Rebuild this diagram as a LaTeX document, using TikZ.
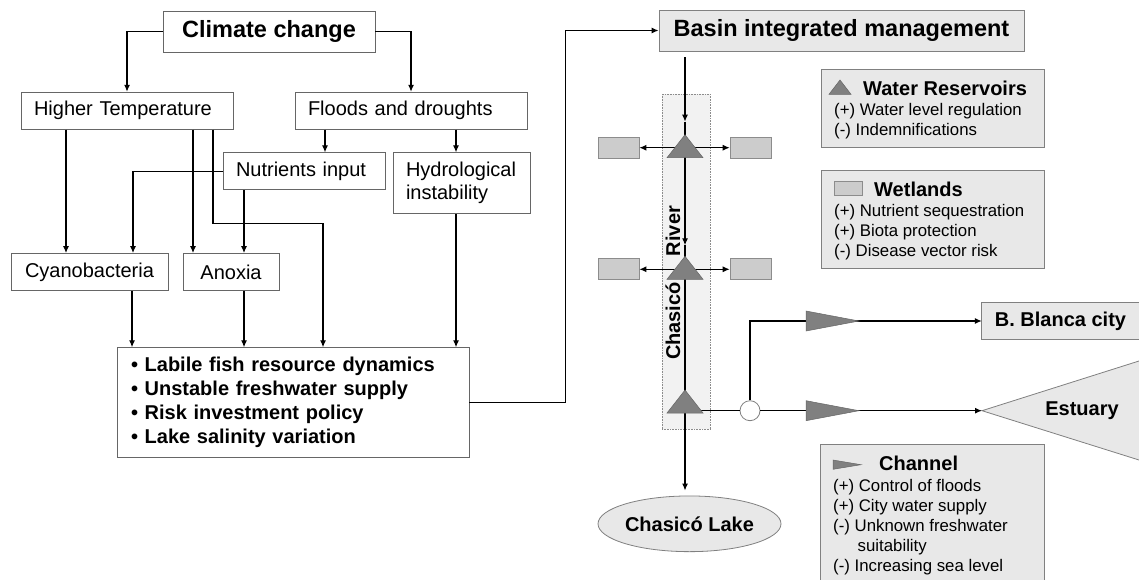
\documentclass[tikz,border=0pt]{standalone}
\usepackage{fontspec}
\setmainfont{Liberation Sans}
\usetikzlibrary{arrows.meta, positioning, shapes.geometric}
\tikzset{
  box/.style={rectangle, draw=black!60, line width=0.8pt, fill=white,
              inner xsep=13pt, inner ysep=0pt, minimum height=37pt,
              font=\fontsize{20}{23}\selectfont},
  lbox/.style={box, align=left},
  greybox/.style={box, fill=black!9, draw=black!50},
  bigbold/.style={font=\fontsize{23.5}{27}\selectfont\bfseries},
  boldtext/.style={font=\fontsize{20}{23}\selectfont\bfseries},
  legend/.style={rectangle, draw=black!50, line width=0.8pt, fill=black!9,
              minimum width=223pt, inner sep=0pt},
  legborder/.style={draw=black!50, line width=0.8pt},
  legtitle/.style={anchor=west, inner sep=0pt, boldtext},
  legtext/.style={anchor=west, inner sep=0pt, align=left,
              font=\fontsize{16.8}{20}\selectfont},
  wetbox/.style={rectangle, draw=black!45, fill=black!20, line width=0.6pt,
              minimum width=41pt, minimum height=20.7pt, inner sep=0pt},
  band/.style={rectangle, draw=black!45, densely dotted, fill=black!5,
              line width=0.6pt, minimum width=48pt, minimum height=334.7pt},
  reservoir/.style={fill=black!50, draw=black!60, line width=0.5pt},
  channel/.style={fill=black!50, draw=black!60, line width=0.5pt},
  conn/.style={line width=1.2pt, -{Latex[length=7pt, width=6pt]}},
  plainconn/.style={line width=1.2pt},
}
\begin{document}
\begin{tikzpicture}[x=1pt, y=-1pt]
    \useasboundingbox (0,0) rectangle (1139,580);
    % Causes
    \node[box, bigbold, minimum width=212pt, minimum height=41pt] (cc) at (269,31.7) {Climate change};
    \node[lbox, text width=186pt] (ht) at (127,110.7) {Higher Temperature};
    \node[lbox, text width=206pt] (fd) at (411,110.7) {Floods and droughts};
    \node[lbox, text width=136pt] (ni) at (304,171.3) {Nutrients input};
    \node[lbox, text width=111pt, minimum height=61pt] (hi) at (461.5,183.3) {Hydrological\\instability};
    \node[box, minimum width=157pt] (cy) at (89.5,272) {Cyanobacteria};
    \node[box, minimum width=96pt] (an) at (231,272) {Anoxia};
    \node[lbox, text width=324pt, inner xsep=14pt, minimum height=110pt,
          font=\fontsize{20}{24}\selectfont\bfseries] (imp) at (293,402.7)
         {\textbullet{} Labile fish resource dynamics\\
          \textbullet{} Unstable freshwater supply\\
          \textbullet{} Risk investment policy\\
          \textbullet{} Lake salinity variation};
    % Cause links
    \draw[conn] (cc.west) -| (ht.north);
    \draw[conn] (cc.east) -| (fd.north);
    \draw[conn] ([xshift=-86pt]fd.south) -- ([xshift=-86pt]fd.south |- ni.north);
    \draw[conn] ([xshift=45pt]fd.south) -- ([xshift=45pt]fd.south |- hi.north);
    \draw[conn] ([xshift=-61pt]ht.south) -- ([xshift=-61pt]ht.south |- cy.north);
    \draw[conn] ([xshift=66pt]ht.south) -- ([xshift=66pt]ht.south |- an.north);
    \draw[conn] ([xshift=86pt]ht.south) -- ++(0,94) -| ([xshift=30pt]imp.north);
    \draw[conn] (ni.west) -| ([xshift=43.5pt]cy.north);
    \draw[conn] ([xshift=-60pt]ni.south) -- ([xshift=-60pt]ni.south |- an.north);
    \draw[conn] ([xshift=42.5pt]cy.south) -- ([xshift=42.5pt]cy.south |- imp.north);
    \draw[conn] ([xshift=13pt]an.south) -- ([xshift=13pt]an.south |- imp.north);
    \draw[conn] ([xshift=-5.5pt]hi.south) -- ([xshift=-5.5pt]hi.south |- imp.north);
    % Management
    \node[greybox, bigbold, minimum width=365pt, minimum height=41pt] (bim) at (841.5,30.5) {Basin integrated management};
    \draw[conn] (imp.east) -- ++(96,0) |- (bim.west);
    % River system
    \node[band] (river) at (686,261.7) {};
    \node[rotate=90, anchor=base, inner sep=0pt, boldtext] (rivername) at (680,283) {Chasicó\hspace{26pt}River};
    \coordinate (r1) at (685,147.7);
    \coordinate (r2) at (685,269.3);
    \coordinate (r3) at (685,403);
    \node[wetbox] (w1l) at (618.5,148) {};
    \node[wetbox] (w1r) at (750.5,148) {};
    \node[wetbox] (w2l) at (618.5,269) {};
    \node[wetbox] (w2r) at (750.5,269) {};
    \node[circle, draw=black!50, fill=white, line width=0.8pt, minimum size=20pt, inner sep=0pt] (jc) at (750,410.7) {};
    \node[ellipse, draw=black!50, fill=black!9, line width=0.8pt, minimum width=183pt,
          minimum height=55.7pt, inner sep=0pt, boldtext] (lake) at (689.5,523.8) {Chasicó Lake};
    \node[rectangle, fill=black!9, minimum width=157pt, minimum height=36.6pt, inner sep=0pt, boldtext] (bb) at (1060.5,321) {B. Blanca city};
    \draw[legborder] (bb.north east) -- (bb.north west) -- (bb.south west) -- (bb.south east);
    \coordinate (estapex) at (982,410.7);
    \fill[black!9] (estapex) -- (1139,361) -- (1139,460) -- cycle;
    \draw[legborder] (1139,361) -- (estapex) -- (1139,460);
    \node[boldtext] (est) at (1082,410.7) {Estuary};
    % River flow
    \draw[conn] ([xshift=-156.5pt, yshift=-6pt]bim.south) -- ([yshift=26pt]r1);
    \draw[plainconn] ([yshift=26pt]r1) -- (r1);
    \draw[conn] (r1) -- ([yshift=24pt]r2);
    \draw[plainconn] ([yshift=24pt]r2) -- (r3);
    \draw[conn, shorten >=5pt] (r3) -- (r3 |- lake.north);
    \foreach \r/\wl/\wr in {r1/w1l/w1r, r2/w2l/w2r} {
      \draw[conn] (\r) -- (\r -| \wl.east);
      \draw[conn] (\r) -- (\r -| \wr.west);
    }
    \draw[plainconn] (r3 |- jc) -- (jc.west);
    \draw[conn] (jc.north) |- (bb.west);
    \draw[conn] (jc.east) -- (estapex);
    \coordinate (c1) at (832.5,321);
    \coordinate (c2) at (832.5,410.7);
    \foreach \r in {r1,r2,r3}
      \filldraw[reservoir, shift={(\r)}] (-18,10) -- (18,10) -- (0,-13) -- cycle;
    \foreach \c in {c1,c2}
      \filldraw[channel, shift={(\c)}] (-26.5,-10) -- (26.5,0) -- (-26.5,10) -- cycle;
    % Legends
    \node[legend, minimum height=77.7pt] (wr) at (932.5,108.2) {};
    \filldraw[reservoir] (829,94.3) -- (851,94.3) -- (840,80) -- cycle;
    \node[legtitle] (wrtitle) at (863,88.3) {Water Reservoirs};
    \node[legtext] (wrtext) at (834,121) {(+) Water level regulation\\(-) Indemnifications};
    \node[legend, minimum height=97.3pt] (wl) at (932.5,219.3) {};
    \node[wetbox, minimum width=28pt, minimum height=14pt] (wlicon) at (848,188) {};
    \node[legtitle] (wltitle) at (874,189.3) {Wetlands};
    \node[legtext] (wltext) at (834,232.3) {(+) Nutrient sequestration\\(+) Biota protection\\(-) Disease vector risk};
    \node[legend, draw=none, minimum height=135.7pt] (ch) at (932.5,512.2) {};
    \draw[legborder] (ch.south west) -- (ch.north west) -- (ch.north east) -- (ch.south east);
    \filldraw[channel] (833,460) -- (861,464.7) -- (833,469.3) -- cycle;
    \node[legtitle] (chtitle) at (879,463.3) {Channel};
    \node[legtext] (chtext) at (833,526.7) {(+) Control of floods\\(+) City water supply\\(-) Unknown freshwater\\\hspace*{24.5pt}suitability\\(-) Increasing sea level};
\end{tikzpicture}
\end{document}
